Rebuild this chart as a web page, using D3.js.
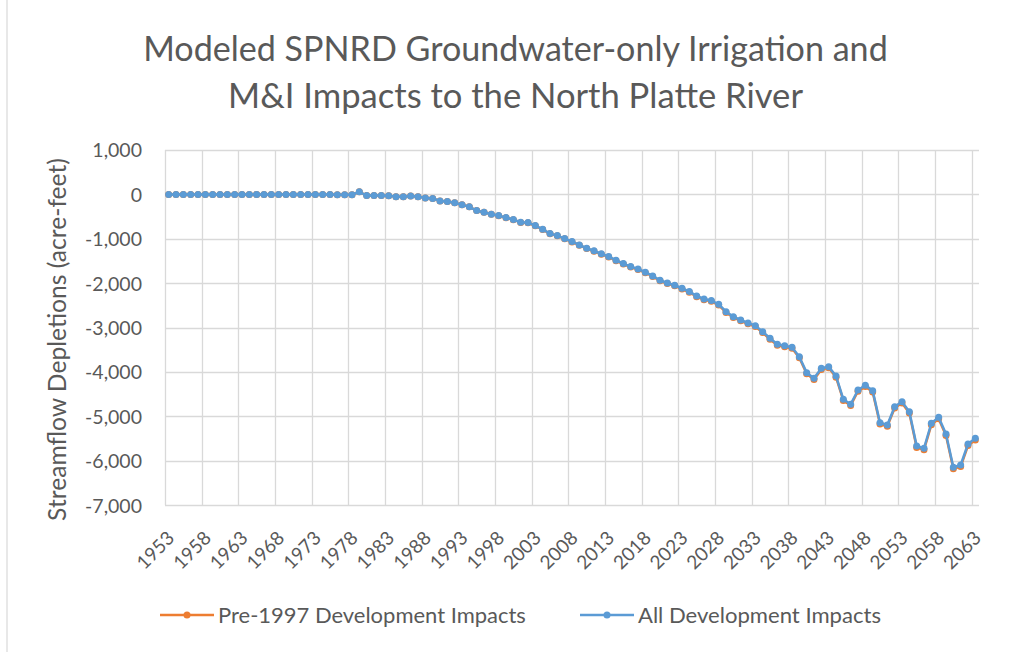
<!DOCTYPE html>
<html>
<head>
<meta charset="utf-8">
<script src="https://cdn.jsdelivr.net/npm/d3@7"></script>
<style>
  html, body { margin: 0; padding: 0; background: #fff; }
  svg { display: block; }
  text { font-family: Lato, "Open Sans", sans-serif; fill: #595959; }
</style>
</head>
<body>
<svg id="chart" width="1015" height="652"></svg>
<script>
// ---------- DATA ----------
const titleLines = ["Modeled SPNRD Groundwater-only Irrigation and", "M&I Impacts to the North Platte River"];
const yAxisTitle = "Streamflow Depletions (acre-feet)";
const seriesNames = ["Pre-1997 Development Impacts", "All Development Impacts"];

const years = [
  1953,1954,1955,1956,1957,1958,1959,1960,1961,1962,
  1963,1964,1965,1966,1967,1968,1969,1970,1971,1972,
  1973,1974,1975,1976,1977,1978,1979,1980,1981,1982,
  1983,1984,1985,1986,1987,1988,1989,1990,1991,1992,
  1993,1994,1995,1996,1997,1998,1999,2000,2001,2002,
  2003,2004,2005,2006,2007,2008,2009,2010,2011,2012,
  2013,2014,2015,2016,2017,2018,2019,2020,2021,2022,
  2023,2024,2025,2026,2027,2028,2029,2030,2031,2032,
  2033,2034,2035,2036,2037,2038,2039,2040,2041,2042,
  2043,2044,2045,2046,2047,2048,2049,2050,2051,2052,
  2053,2054,2055,2056,2057,2058,2059,2060,2061,2062,
  2063
];

// All Development Impacts (blue)
const allDev = [
  0,0,0,0,0,0,0,0,0,0,
  0,0,0,0,0,0,0,0,-3,-3,
  -3,-4,-4,-5,-8,-10,60,-27,-25,-27,
  -30,-50,-50,-35,-50,-80,-90,-146,-160,-190,
  -230,-280,-365,-400,-447,-477,-522,-567,-627,-635,
  -702,-785,-882,-927,-995,-1062,-1137,-1212,-1270,-1336,
  -1400,-1482,-1557,-1625,-1677,-1752,-1835,-1932,-1993,-2045,
  -2113,-2188,-2286,-2353,-2391,-2473,-2640,-2752,-2827,-2894,
  -2955,-3090,-3239,-3374,-3405,-3442,-3653,-4013,-4140,-3915,
  -3878,-4088,-4613,-4725,-4403,-4298,-4418,-5140,-5191,-4779,
  -4666,-4891,-5664,-5716,-5153,-5018,-5394,-6144,-6092,-5619,
  -5491
];

// Pre-1997 Development Impacts (orange)
const pre1997 = [
  0,0,0,0,0,0,0,0,0,0,
  0,0,0,0,0,0,0,0,-3,-3,
  -3,-4,-4,-5,-8,-10,60,-27,-25,-27,
  -30,-50,-50,-35,-50,-80,-90,-146,-160,-190,
  -230,-280,-365,-400,-448,-478,-524,-569,-630,-638,
  -706,-789,-887,-933,-1001,-1069,-1144,-1220,-1278,-1345,
  -1409,-1492,-1567,-1636,-1689,-1764,-1848,-1945,-2007,-2059,
  -2128,-2203,-2302,-2370,-2408,-2491,-2658,-2771,-2846,-2914,
  -2975,-3111,-3260,-3396,-3428,-3465,-3677,-4037,-4165,-3940,
  -3904,-4114,-4640,-4753,-4431,-4327,-4447,-5170,-5221,-4810,
  -4697,-4923,-5696,-5749,-5187,-5052,-5429,-6179,-6128,-5655,
  -5528
];

const yTicks = [1000,0,-1000,-2000,-3000,-4000,-5000,-6000,-7000];
const xLabelYears = [1953,1958,1963,1968,1973,1978,1983,1988,1993,1998,2003,2008,2013,2018,2023,2028,2033,2038,2043,2048,2053,2058,2063];
const gridEveryYears = 5;

// ---------- LAYOUT ----------
const W = 1015, H = 652;
const plot = { left: 165, right: 979, top: 150, bottom: 505.3 };
const colors = { orange: "#ED7D31", blue: "#5B9BD5", grid: "#D9D9D9", text: "#595959" };

const svg = d3.select("#chart");
svg.append("rect").attr("width", W).attr("height", H).attr("fill", "#fff");
// chart-area border (left edge visible)
svg.append("line").attr("x1", 7).attr("x2", 7).attr("y1", 0).attr("y2", H)
  .attr("stroke", colors.grid).attr("stroke-width", 1.2);

const x = d3.scaleBand().domain(years).range([plot.left, plot.right]).paddingInner(0).paddingOuter(0);
const y = d3.scaleLinear().domain([-7000, 1000]).range([plot.bottom, plot.top]);
const cx = yr => x(yr) + x.bandwidth() / 2;

// horizontal gridlines
svg.append("g").selectAll("line").data(yTicks).join("line")
  .attr("x1", plot.left).attr("x2", plot.right)
  .attr("y1", d => Math.round(y(d)) + 0.5).attr("y2", d => Math.round(y(d)) + 0.5)
  .attr("stroke", colors.grid).attr("stroke-width", 1.3);

// vertical gridlines at category boundaries every 5 years
const vBounds = years.filter((yr, i) => i % gridEveryYears === 0);
svg.append("g").selectAll("line").data(vBounds).join("line")
  .attr("x1", d => Math.round(x(d)) + 0.5).attr("x2", d => Math.round(x(d)) + 0.5)
  .attr("y1", plot.top).attr("y2", plot.bottom)
  .attr("stroke", colors.grid).attr("stroke-width", 1.3);

// y axis labels
const fmt = d3.format(",");
const yAxis = d3.axisLeft(y).tickValues(yTicks).tickSize(0).tickPadding(0).tickFormat(d => fmt(d).replace("−", "-"));
const yG = svg.append("g").attr("transform", `translate(142,0)`).call(yAxis);
yG.select(".domain").remove();
yG.selectAll("text").attr("font-size", 19.5).style("fill", colors.text)
  .style("font-family", "Lato, sans-serif").attr("dy", "0.35em");

// x axis labels, rotated
const xAxis = d3.axisBottom(x).tickValues(xLabelYears).tickSize(0).tickPadding(0);
const xG = svg.append("g").attr("transform", `translate(0,${plot.bottom})`).call(xAxis);
xG.select(".domain").remove();
xG.selectAll(".tick text")
  .attr("font-size", 19).style("fill", colors.text).style("font-family", "Lato, sans-serif")
  .attr("text-anchor", "end")
  .attr("x", 0).attr("y", 0).attr("dy", 0)
  .attr("transform", "translate(7,34) rotate(-45)");

// series
const seriesData = [
  { name: seriesNames[0], values: pre1997, color: colors.orange },
  { name: seriesNames[1], values: allDev, color: colors.blue }
];
const line = d3.line().x((d, i) => cx(years[i])).y(d => y(d));
seriesData.forEach(s => {
  const g = svg.append("g");
  g.append("path").datum(s.values).attr("d", line)
    .attr("fill", "none").attr("stroke", s.color).attr("stroke-width", 2.5).attr("stroke-linejoin", "round");
  g.selectAll("circle").data(s.values).join("circle")
    .attr("cx", (d, i) => cx(years[i])).attr("cy", d => y(d)).attr("r", 3.5)
    .attr("fill", s.color);
});

// helper to fit text width
function fit(sel, target) {
  let fs = +sel.attr("font-size");
  const w = sel.node().getComputedTextLength();
  if (w > 0) sel.attr("font-size", (fs * target / w).toFixed(2));
}

// title
const t1 = svg.append("text").attr("x", 515.5).attr("y", 61).attr("text-anchor", "middle")
  .attr("font-size", 30).text(titleLines[0]);
fit(t1, 745);
const t2 = svg.append("text").attr("x", 515.5).attr("y", 108).attr("text-anchor", "middle")
  .attr("font-size", 30).text(titleLines[1]);
fit(t2, 575);

// y axis title
const yt = svg.append("text").attr("transform", "translate(66,339.5) rotate(-90)")
  .attr("text-anchor", "middle").attr("font-size", 20).text(yAxisTitle);
fit(yt, 363);

// legend
const legendItems = [
  { name: seriesNames[0], color: colors.orange, x0: 160, textX: 218, w: 308 },
  { name: seriesNames[1], color: colors.blue, x0: 580, textX: 638, w: 243 }
];
const ly = 615;
legendItems.forEach(it => {
  const g = svg.append("g");
  g.append("line").attr("x1", it.x0).attr("x2", it.x0 + 54).attr("y1", ly).attr("y2", ly)
    .attr("stroke", it.color).attr("stroke-width", 2.5);
  g.append("circle").attr("cx", it.x0 + 27).attr("cy", ly).attr("r", 3.5).attr("fill", it.color);
  const tx = g.append("text").attr("x", it.textX).attr("y", ly).attr("dy", "0.35em")
    .attr("font-size", 20).text(it.name);
  fit(tx, it.w);
});
</script>
</body>
</html>
